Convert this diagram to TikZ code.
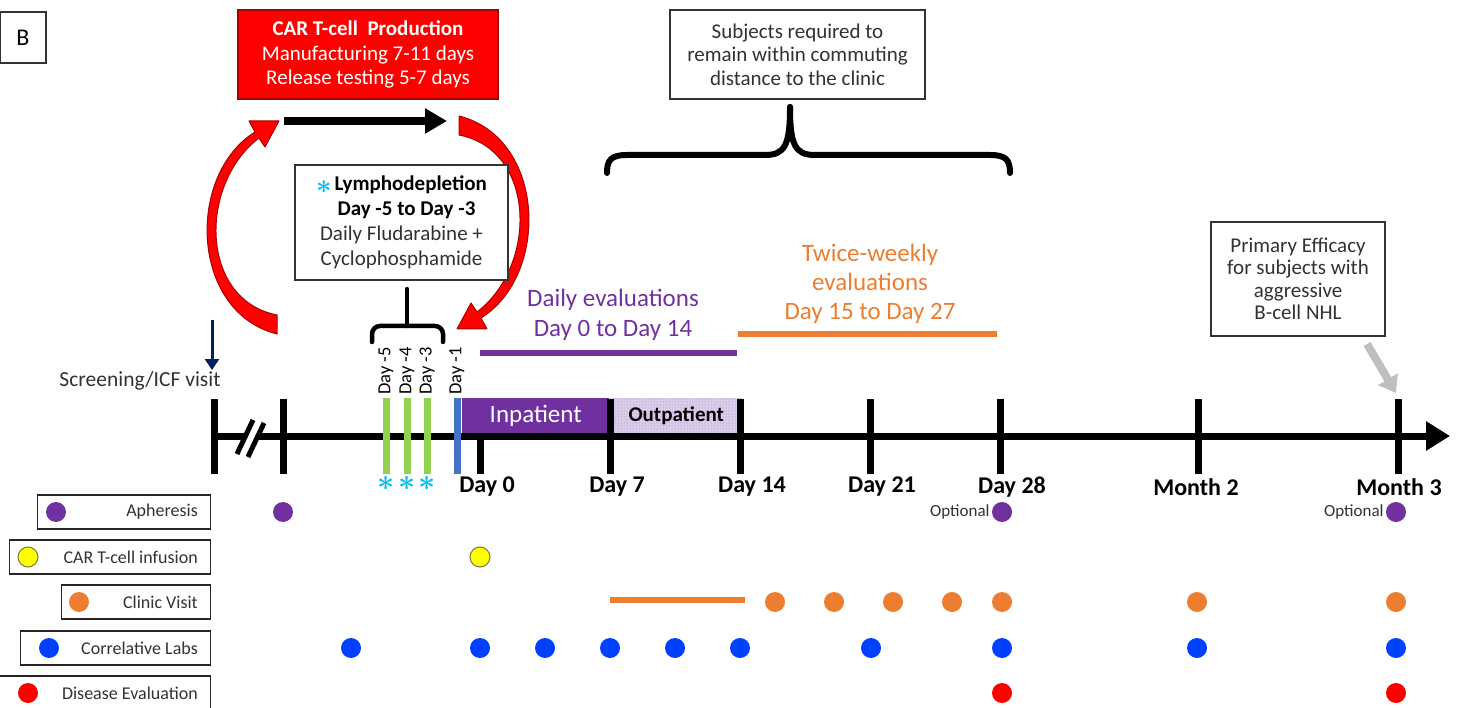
\documentclass[tikz,border=0pt]{standalone}
\usepackage{graphicx}
\usepackage{fontspec}
\setmainfont{Carlito}
\usetikzlibrary{arrows.meta,patterns,positioning}

\definecolor{prodred}{RGB}{255,0,0}
\definecolor{edgered}{RGB}{170,0,0}
\definecolor{evalpurple}{RGB}{112,48,160}
\definecolor{outlavender}{RGB}{218,206,234}
\definecolor{evalorange}{RGB}{237,125,49}
\definecolor{labblue}{RGB}{0,64,255}
\definecolor{lymphgreen}{RGB}{146,208,80}
\definecolor{dayblue}{RGB}{68,114,196}
\definecolor{screennavy}{RGB}{0,32,96}
\definecolor{efficacygrey}{RGB}{191,191,191}
\definecolor{starcyan}{RGB}{0,190,240}
\definecolor{infyellow}{RGB}{255,255,0}
\definecolor{txtgrey}{RGB}{50,50,50}

\newcommand{\fsz}[2]{\fontsize{#1}{#2}\selectfont}
\newcommand{\lymphast}[1]{{\color{starcyan}\boldmath\scalebox{#1}{$\ast$}}}
\newcommand{\crescentpath}{(277,334) .. controls (190,312) and (186,175) .. (255,132) -- (249,121) -- (279,121) -- (265,147) -- (259,138) .. controls (198,185) and (200,300) .. (277,315) -- cycle}

\tikzset{
  infobox/.style={draw=black!80, line width=1.2pt, fill=white, text=txtgrey, align=center, inner sep=0pt},
  legendbox/.style={draw=black!85, line width=1.3pt, minimum height=34pt, inner sep=0pt},
  legendtext/.style={text=txtgrey, font=\fsz{18}{20}, anchor=east, inner sep=0pt},
  opttext/.style={text=txtgrey, font=\fsz{17}{19}, inner sep=0pt},
  dot/.style={circle, minimum size=20pt, inner sep=0pt},
  tickmark/.style={line width=7pt},
  ticklabel/.style={font=\fsz{24}{26}\bfseries, text=black, inner sep=0pt},
  daylabel/.style={rotate=90, anchor=west, font=\fsz{18.5}{20}, text=black, inner sep=0pt},
  brace/.style={line width=5pt, line cap=round},
  bar/.style={line width=7pt},
  crescent/.style={fill=prodred, draw=edgered, line width=1pt, line join=round},
  lymphstar/.style={font=\fsz{24}{24}, inner sep=0pt},
}

\begin{document}
\begin{tikzpicture}[x=1pt, y=-1pt]
\useasboundingbox (0,0) rectangle (1461,708);

\node[infobox, text=black, font=\fsz{24}{26}, minimum width=46pt, minimum height=51pt] (panel) at (23,37.5) {B};

\node[draw=edgered, line width=1.5pt, fill=prodred, text=white, align=center, font=\fsz{21}{24.5},
      minimum width=260pt, minimum height=89pt, inner sep=0pt] (prod) at (368,54.5)
     {\textbf{CAR T-cell\ \ Production}\\Manufacturing 7-11 days\\Release testing 5-7 days};

\node[infobox, font=\fsz{21}{23.5}, minimum width=255pt, minimum height=89pt] (subj) at (797.5,54.5)
     {Subjects required to\\remain within commuting\\distance to the clinic};

\path[crescent] \crescentpath;
\begin{scope}[rotate around={180:(368,225)}]
  \path[crescent] \crescentpath;
\end{scope}

\node[infobox, font=\fsz{21}{25}, minimum width=213pt, minimum height=115pt] (lymph) at (401.5,222.5)
     {\raisebox{-3pt}{\lymphast{1.3}}\hspace{3pt}\textbf{\color{black}Lymphodepletion}\\
      \hspace*{10pt}\textbf{\color{black}Day -5 to Day -3}\\Daily Fludarabine +\\Cyclophosphamide};

\node[infobox, font=\fsz{21}{22.5}, minimum width=174pt, minimum height=114pt] (prim) at (1298,279)
     {Primary Efficacy\\for subjects with\\aggressive\\B-cell NHL};

\coordinate (prod-from) at (284,121);
\coordinate (prod-to) at (447,121);
\draw[line width=8pt, -{Triangle[length=22pt,width=24pt]}] (prod-from) -- (prod-to);

\coordinate (subj-tip) at (790,107);
\draw[brace, line width=6pt] (subj-tip) .. controls (790,145) and (795,155) .. (815,155) -- (990,155) .. controls (1006,155) and (1010,160) .. (1010,173);
\draw[brace, line width=6pt] (subj-tip) .. controls (790,145) and (785,155) .. (765,155) -- (627,155) .. controls (611,155) and (607,160) .. (607,173);

\coordinate (lymph-tip) at (407,289);
\draw[brace, line width=4.5pt] (lymph-tip) -- (407,326);
\draw[brace, line width=4.5pt, rounded corners=8pt] (372,342) -- (372,326) -- (443,326) -- (443,342);

\node[text=evalpurple, font=\fsz{25}{30}, align=center, inner sep=0pt] (daily) at (613,315) {Daily evaluations\\Day 0 to Day 14};
\draw[evalpurple, line width=6pt] (480,353) -- (737,353);
\node[text=evalorange, font=\fsz{25}{29}, align=center, inner sep=0pt] (twice) at (870,284) {Twice-weekly\\evaluations\\Day 15 to Day 27};
\draw[evalorange, line width=6pt] (738,334) -- (997,334);

\node[text=txtgrey, font=\fsz{21.5}{24}, inner sep=0pt] (scr) at (140,381) {Screening/ICF visit};
\coordinate (scr-from) at (212,320);
\coordinate (scr-to) at (212,370);
\draw[screennavy, line width=3pt, -{Triangle[length=11pt,width=14pt]}] (scr-from) -- (scr-to);

\coordinate (eff-from) at (1367,344);
\coordinate (eff-to) at (1396,393);
\draw[efficacygrey, line width=8pt, -{Triangle[length=16pt,width=22pt]}] (eff-from) -- (eff-to);

\draw[line width=7pt, -{Triangle[length=24pt,width=28pt]}] (212,436) -- (1450,436);
\fill[white] (236,455) -- (252,420) -- (266,422) -- (250,457) -- cycle;
\draw[line width=5pt] (237,454) -- (253,420);
\draw[line width=5pt] (248,457) -- (264,423);

\node[fill=evalpurple, text=white, font=\fsz{25}{27}, minimum width=147pt, minimum height=35pt,
      anchor=north west, inner sep=0pt] (inpat) at (462,398) {Inpatient};
\node[preaction={fill=outlavender}, pattern=dots, pattern color=evalpurple!70, text=black, font=\fsz{21}{23}\bfseries,
      minimum width=132pt, minimum height=35pt, anchor=north west, inner sep=0pt] (outpat) at (610,398) {Outpatient};

\foreach \nm/\xx in {scr/214, aph/283, d7/610, d14/740, d21/870, d28/1000, m2/1198, m3/1398} {
  \coordinate (t-\nm) at (\xx,436);
  \draw[tickmark] (\xx,399) -- (\xx,474);
}
\coordinate (t-d0) at (480,436);
\draw[tickmark] (t-d0) -- (480,474);

\foreach \xx in {386,407,427}
  \draw[bar, lymphgreen] (\xx,398) -- (\xx,474);
\draw[bar, dayblue] (457,398) -- (457,474);

\foreach \nm/\xx/\lbl in {dm5/386/Day -5, dm4/407/Day -4, dm3/427/Day -3, dm1/457/Day -1}
  \node[daylabel] (lbl-\nm) at (\xx,395) {\lbl};
\foreach \xx in {386,407,427}
  \node[lymphstar] (star-\xx) at (\xx,483) {\lymphast{1.2}};

\foreach \nm/\xx/\lbl in {d0/487/Day 0, d7/617/Day 7, d14/752/Day 14, d21/882/Day 21, d28/1012/Day 28, m2/1196/Month 2, m3/1399/Month 3}
  \node[ticklabel] (lbl-\nm) at (\xx,487) {\lbl};

\foreach \nm/\lx/\dx/\yy/\col/\bd/\txt in {aph/38/56/512/evalpurple/none/Apheresis,
    inf/10/28/557/infyellow/black!60!yellow/CAR T-cell infusion,
    clin/62/79/602/evalorange/none/Clinic Visit,
    lab/21/49/648/labblue/none/Correlative Labs,
    dis/0/28/693/prodred/none/Disease Evaluation} {
  \node[legendbox, minimum width={211-\lx}, anchor=east] (leg-\nm) at (211,\yy) {};
  \node[dot, fill=\col, draw=\bd, line width=1pt] (leg-\nm-dot) at (\dx,\yy) {};
  \node[legendtext] (leg-\nm-txt) at (198,\yy) {\txt};
}

\foreach \xx in {283,1002,1396}
  \node[dot, fill=evalpurple] (aph-\xx) at (\xx,512) {};
\node[opttext, left=2pt of aph-1002] (opt-d28) {Optional};
\node[opttext, left=2pt of aph-1396] (opt-m3) {Optional};

\node[dot, fill=infyellow, draw=black!60!yellow, line width=1pt] (inf-480) at (480,557) {};

\draw[evalorange, line width=6pt] (610,600) -- (745,600);
\foreach \xx in {775,834,893,952,1002,1197,1396}
  \node[dot, fill=evalorange] (clin-\xx) at (\xx,602) {};

\foreach \xx in {351,480,545,610,675,740,871,1002,1197,1396}
  \node[dot, fill=labblue] (lab-\xx) at (\xx,648) {};

\foreach \xx in {1002,1396}
  \node[dot, fill=prodred] (dis-\xx) at (\xx,693) {};
\end{tikzpicture}
\end{document}
